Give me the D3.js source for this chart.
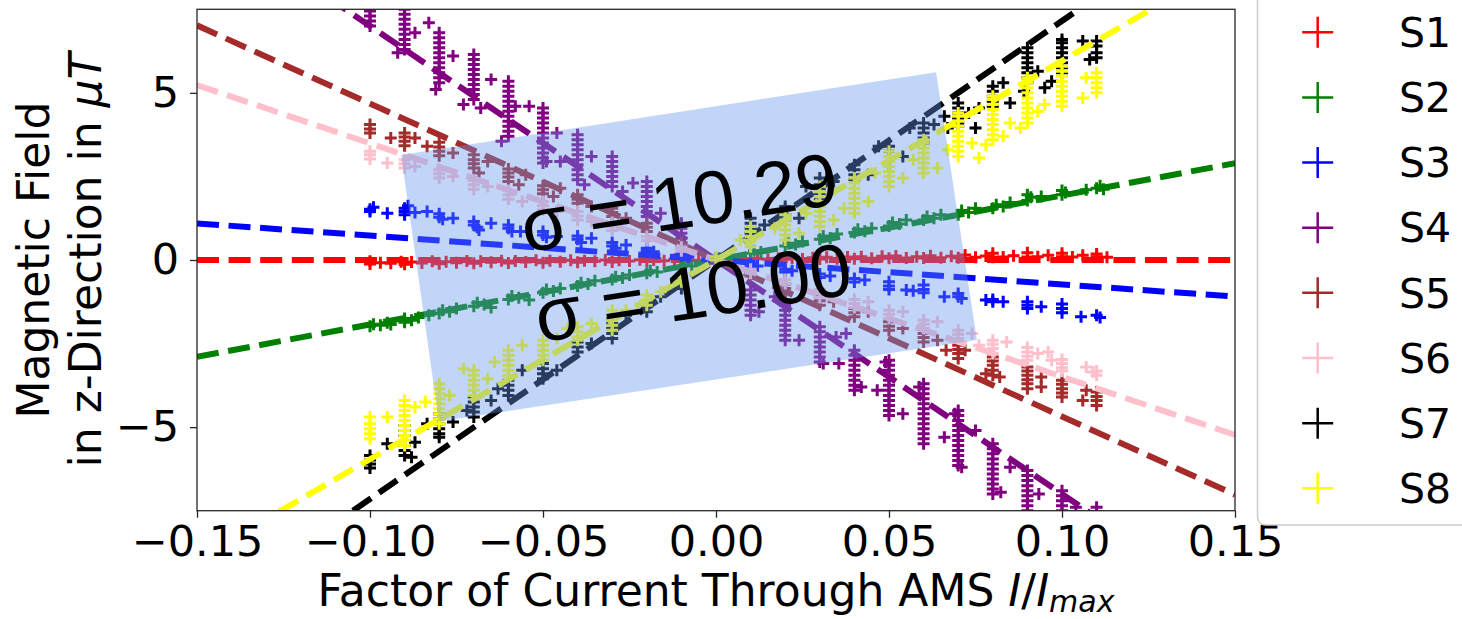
<!DOCTYPE html>
<html>
<head>
<meta charset="utf-8">
<script src="https://cdn.jsdelivr.net/npm/d3@7"></script>
<style>
  html, body { margin: 0; padding: 0; background: #fff; }
  svg { display: block; }
</style>
</head>
<body>
<svg id="chart" width="1462" height="619"></svg>
<script>
// ---- data -------------------------------------------------------------
const categories = ["S1", "S2", "S3", "S4", "S5", "S6", "S7", "S8"];
const seriesColors = ["red", "green", "blue", "purple", "brown", "pink", "black", "yellow"];
// slopes of the fitted lines (µT per unit I/Imax), all through the origin
const fitSlopes = [0, 19.3, -7.3, -70, -46.8, -34.9, 71.5, 59.6];
const xTickValues = [-0.15, -0.10, -0.05, 0.00, 0.05, 0.10, 0.15];
const yTickValues = [-5, 0, 5];
const sigmaLabels = ["σ = 10.29", "σ = 10.00"];

// measurements: each row is [I/Imax, Bz, Bz, ...] (several readings at one current)
const s1Points = [
  [-0.100, -0.12, -0.04], [-0.097, -0.08], [-0.094, -0.10], [-0.091, -0.05],
  [-0.090, -0.13], [-0.088, -0.06], [-0.085, -0.09], [-0.082, -0.04],
  [-0.080, -0.11], [-0.078, -0.05], [-0.075, -0.08], [-0.072, -0.03],
  [-0.070, -0.10], [-0.068, -0.04], [-0.065, -0.07], [-0.062, -0.02],
  [-0.060, -0.09], [-0.058, -0.03], [-0.055, -0.06], [-0.052, -0.01],
  [-0.050, -0.08], [-0.048, -0.02], [-0.045, -0.05], [-0.042, -0.01],
  [-0.040, -0.07], [-0.038, -0.02], [-0.035, -0.04], [-0.032, 0.00],
  [-0.030, -0.06], [-0.028, -0.01], [-0.025, -0.03], [-0.022, 0.01],
  [-0.020, -0.04], [-0.018, 0.00], [-0.015, -0.02], [-0.012, 0.02],
  [-0.010, -0.03], [-0.008, 0.01], [-0.005, -0.01], [-0.002, 0.02],
  [0.000, -0.01], [0.002, 0.02], [0.005, 0.00], [0.008, 0.03],
  [0.010, 0.01], [0.012, 0.04], [0.015, 0.02], [0.018, 0.05],
  [0.020, 0.02], [0.022, 0.06], [0.025, 0.03], [0.028, 0.07],
  [0.030, 0.03], [0.032, 0.08], [0.035, 0.04], [0.038, 0.09],
  [0.040, 0.04], [0.042, 0.10], [0.045, 0.05], [0.048, 0.11],
  [0.050, 0.05], [0.052, 0.12], [0.055, 0.06], [0.058, 0.10],
  [0.060, 0.06], [0.062, 0.13], [0.065, 0.07], [0.068, 0.11],
  [0.070, 0.07], [0.072, 0.15], [0.075, 0.08], [0.078, 0.12],
  [0.080, 0.08, 0.20], [0.083, 0.09], [0.086, 0.13],
  [0.090, 0.09, 0.22], [0.093, 0.10], [0.096, 0.14],
  [0.100, 0.10, 0.20], [0.103, 0.09], [0.106, 0.14],
  [0.110, 0.10, 0.18], [0.113, 0.08]
];
const s2Points = [
  [-0.100, -1.98], [-0.099, -1.92], [-0.097, -1.95], [-0.095, -1.88], [-0.094, -1.93],
  [-0.090, -1.86, -1.75], [-0.088, -1.80], [-0.086, -1.72], [-0.083, -1.65],
  [-0.080, -1.60], [-0.079, -1.50], [-0.077, -1.55], [-0.075, -1.45],
  [-0.070, -1.38], [-0.069, -1.28], [-0.067, -1.33], [-0.065, -1.42],
  [-0.060, -1.18], [-0.059, -1.08], [-0.057, -1.13], [-0.054, -1.20],
  [-0.050, -0.98], [-0.049, -0.88], [-0.047, -0.93], [-0.045, -0.85],
  [-0.040, -0.78], [-0.039, -0.68], [-0.037, -0.72], [-0.035, -0.62],
  [-0.030, -0.58], [-0.029, -0.50], [-0.027, -0.54], [-0.025, -0.45],
  [-0.020, -0.40], [-0.019, -0.32], [-0.017, -0.36],
  [-0.010, -0.20], [-0.009, -0.14], [-0.007, -0.18],
  [0.000, 0.00], [0.001, 0.05],
  [0.010, 0.20], [0.011, 0.28], [0.013, 0.24],
  [0.020, 0.42], [0.021, 0.50], [0.023, 0.46], [0.025, 0.55],
  [0.030, 0.62], [0.031, 0.72], [0.033, 0.66], [0.035, 0.78],
  [0.040, 0.82], [0.041, 0.92], [0.043, 0.86], [0.045, 0.95],
  [0.050, 1.02], [0.051, 1.12], [0.053, 1.08], [0.055, 1.20],
  [0.060, 1.20], [0.061, 1.30], [0.063, 1.25], [0.065, 1.35],
  [0.070, 1.35], [0.071, 1.48], [0.073, 1.42], [0.075, 1.55],
  [0.080, 1.55], [0.081, 1.65], [0.083, 1.60], [0.085, 1.72],
  [0.090, 1.78, 1.95], [0.091, 1.88], [0.094, 1.90],
  [0.100, 1.95, 2.08], [0.101, 2.02],
  [0.107, 2.10], [0.110, 2.15], [0.111, 2.22], [0.112, 2.12]
];
const s3Points = [
  [-0.100, 1.52, 1.45], [-0.099, 1.58], [-0.095, 1.40],
  [-0.090, 1.55, 1.45, 1.35], [-0.089, 1.62], [-0.087, 1.42],
  [-0.0835, 1.45], [-0.080, 1.38, 1.28], [-0.079, 1.22], [-0.076, 1.25],
  [-0.070, 1.15, 1.05], [-0.069, 0.98], [-0.0685, 0.90], [-0.065, 1.10],
  [-0.060, 1.05, 0.95], [-0.059, 0.85], [-0.0565, 0.85],
  [-0.050, 0.85, 0.75], [-0.049, 0.68], [-0.046, 0.70],
  [-0.040, 0.72, 0.62], [-0.039, 0.52], [-0.036, 0.65],
  [-0.030, 0.52, 0.42], [-0.029, 0.35], [-0.026, 0.45],
  [-0.020, 0.35, 0.28], [-0.018, 0.25],
  [-0.010, 0.18, 0.12], [-0.008, 0.10],
  [0.000, 0.02],
  [0.010, -0.12, -0.20], [0.012, -0.18],
  [0.020, -0.28, -0.36], [0.022, -0.32],
  [0.030, -0.42, -0.52], [0.033, -0.48],
  [0.040, -0.55, -0.66], [0.043, -0.60],
  [0.050, -0.65, -0.78, -0.88], [0.055, -0.90],
  [0.057, -0.92], [0.060, -0.75, -0.88, -0.98],
  [0.066, -1.10], [0.070, -1.00, -1.10], [0.071, -1.15],
  [0.078, -1.20], [0.080, -1.18, -1.25], [0.083, -1.25],
  [0.090, -1.25, -1.35, -1.45], [0.094, -1.40],
  [0.100, -1.32, -1.45, -1.58],
  [0.1055, -1.70], [0.110, -1.65], [0.111, -1.72]
];
const s4Points = [
  [-0.100, 7.00, 7.15, 7.30, 7.45, 7.60],
  [-0.092, 6.20], [-0.087, 6.80],
  [-0.090, 6.30, 6.45, 6.60, 6.75, 6.90, 7.05, 7.20, 7.35, 7.50, 7.65],
  [-0.083, 7.10], [-0.081, 5.10], [-0.076, 6.10],
  [-0.080, 5.30, 5.45, 5.60, 5.75, 5.90, 6.05, 6.20, 6.35, 6.50, 6.65, 6.80],
  [-0.073, 4.65], [-0.068, 4.55], [-0.065, 5.40],
  [-0.070, 4.80, 4.95, 5.10, 5.25, 5.40, 5.55, 5.70, 5.85, 6.00, 6.15],
  [-0.062, 3.55], [-0.058, 4.60], [-0.054, 4.60],
  [-0.060, 3.70, 3.85, 4.00, 4.15, 4.30, 4.45, 4.60, 4.75, 4.90, 5.05, 5.20, 5.35],
  [-0.049, 2.95], [-0.046, 3.80], [-0.045, 2.95],
  [-0.050, 2.90, 3.05, 3.20, 3.35, 3.50, 3.65, 3.80, 3.95, 4.10, 4.25, 4.40, 4.55],
  [-0.038, 2.25], [-0.036, 3.10],
  [-0.040, 2.40, 2.55, 2.70, 2.85, 3.00, 3.15, 3.30, 3.45, 3.60, 3.75],
  [-0.027, 2.05], [-0.024, 2.30],
  [-0.030, 2.20, 2.35, 2.50, 2.65, 2.80, 2.95, 3.10],
  [-0.016, 1.40],
  [-0.020, 1.30, 1.45, 1.60, 1.75, 1.90, 2.05, 2.20, 2.35],
  [-0.010, 0.50, 0.65, 0.80, 0.95, 1.10],
  [0.000, -0.10, 0.05],
  [0.0124, -1.55],
  [0.010, -0.90, -1.05, -1.20, -1.35, -1.50, -1.65],
  [0.017, -1.10], [0.024, -2.40],
  [0.020, -1.20, -1.35, -1.50, -1.65, -1.80, -1.95, -2.10, -2.25, -2.40],
  [0.031, -3.10], [0.0347, -2.30], [0.0355, -3.10], [0.0376, -2.20],
  [0.030, -2.00, -2.15, -2.30, -2.45, -2.60, -2.75, -2.90, -3.05],
  [0.042, -3.80], [0.0466, -3.90], [0.049, -3.05],
  [0.040, -2.70, -2.85, -3.00, -3.15, -3.30, -3.45, -3.60, -3.75, -3.90],
  [0.054, -4.60], [0.0587, -3.80],
  [0.050, -3.00, -3.15, -3.30, -3.45, -3.60, -3.75, -3.90, -4.05, -4.20, -4.35, -4.50, -4.65],
  [0.066, -5.30], [0.069, -4.60],
  [0.060, -3.70, -3.85, -4.00, -4.15, -4.30, -4.45, -4.60, -4.75, -4.90, -5.05, -5.20, -5.35, -5.50],
  [0.071, -6.20], [0.075, -5.10],
  [0.070, -4.50, -4.65, -4.80, -4.95, -5.10, -5.25, -5.40, -5.55, -5.70, -5.85, -6.00, -6.15],
  [0.0823, -6.95], [0.085, -6.20],
  [0.080, -5.50, -5.65, -5.80, -5.95, -6.10, -6.25, -6.40, -6.55, -6.70, -6.85, -7.00],
  [0.0933, -7.00],
  [0.090, -6.30, -6.45, -6.60, -6.75, -6.90, -7.05, -7.20, -7.35, -7.50],
  [0.104, -7.40],
  [0.100, -6.90, -7.05, -7.20, -7.35, -7.50, -7.65],
  [0.110, -7.40, -7.55]
];
const s5Points = [
  [-0.100, 3.80, 3.92, 4.05], [-0.094, 3.65],
  [-0.090, 3.42, 3.55, 3.68, 3.80], [-0.087, 3.65], [-0.0835, 3.40],
  [-0.080, 3.12, 3.25, 3.38, 3.52], [-0.076, 3.20],
  [-0.070, 2.75, 2.88, 3.00, 3.15], [-0.0685, 2.60], [-0.066, 2.95],
  [-0.060, 2.35, 2.48, 2.60, 2.72], [-0.057, 2.25], [-0.055, 2.55],
  [-0.050, 1.98, 2.10, 2.22], [-0.047, 1.90], [-0.045, 2.15],
  [-0.040, 1.70, 1.82, 1.95], [-0.036, 1.60],
  [-0.030, 1.30, 1.42, 1.55], [-0.026, 1.25],
  [-0.020, 0.85, 0.98, 1.10],
  [-0.010, 0.40, 0.52],
  [0.000, 0.00],
  [0.010, -0.35, -0.48],
  [0.020, -0.72, -0.85, -0.98],
  [0.030, -1.10, -1.22, -1.35], [0.034, -1.25],
  [0.040, -1.45, -1.58, -1.70], [0.044, -1.55],
  [0.050, -1.85, -1.98, -2.10], [0.054, -2.05],
  [0.060, -2.20, -2.32, -2.45], [0.064, -2.40],
  [0.0665, -2.70], [0.070, -2.55, -2.68, -2.80, -2.95], [0.072, -2.70],
  [0.078, -3.40], [0.080, -2.90, -3.02, -3.15, -3.30, -3.45], [0.082, -3.50],
  [0.090, -3.20, -3.32, -3.45, -3.58, -3.70, -3.85], [0.094, -3.50, -3.80],
  [0.100, -3.60, -3.72, -3.85, -3.98, -4.10],
  [0.106, -4.20], [0.107, -3.90], [0.110, -3.95, -4.08, -4.20, -4.35]
];
const s6Points = [
  [-0.100, 3.02, 3.15, 3.25], [-0.095, 2.90],
  [-0.090, 2.75, 2.88, 3.00], [-0.087, 2.80],
  [-0.080, 2.45, 2.58, 2.70], [-0.076, 2.50],
  [-0.070, 2.12, 2.25, 2.38], [-0.066, 2.20],
  [-0.060, 1.82, 1.95, 2.08], [-0.056, 1.75],
  [-0.050, 1.50, 1.62, 1.75], [-0.046, 1.45],
  [-0.040, 1.20, 1.32, 1.45], [-0.036, 1.15],
  [-0.030, 0.88, 1.00, 1.12],
  [-0.020, 0.58, 0.70],
  [-0.010, 0.28, 0.38],
  [0.000, 0.00],
  [0.010, -0.28, -0.40],
  [0.020, -0.58, -0.70],
  [0.030, -0.88, -1.00, -1.12],
  [0.040, -1.18, -1.30, -1.42], [0.044, -1.25],
  [0.050, -1.50, -1.62, -1.75], [0.054, -1.55],
  [0.060, -1.80, -1.92, -2.05], [0.064, -1.85],
  [0.070, -2.10, -2.22, -2.35], [0.074, -2.20],
  [0.076, -2.55], [0.080, -2.40, -2.52, -2.65, -2.80], [0.084, -2.45],
  [0.090, -2.62, -2.75, -2.88, -3.00], [0.093, -2.80], [0.096, -2.75],
  [0.097, -3.00], [0.100, -2.98, -3.10, -3.22, -3.32],
  [0.107, -3.20], [0.109, -3.35], [0.110, -3.32, -3.45]
];
const s7Points = [
  [-0.100, -5.85, -5.98, -6.10, -6.22], [-0.095, -5.50],
  [-0.090, -4.95, -5.10, -5.25, -5.40, -5.55, -5.70, -5.85], [-0.088, -5.90], [-0.087, -5.45],
  [-0.0835, -4.90], [-0.080, -4.60, -4.75, -4.90, -5.05, -5.20, -5.30], [-0.076, -4.85],
  [-0.072, -4.50], [-0.070, -4.10, -4.25, -4.40, -4.55, -4.70], [-0.065, -4.20],
  [-0.063, -3.85], [-0.060, -3.60, -3.75, -3.90, -4.05], [-0.056, -3.30],
  [-0.050, -3.10, -3.25, -3.40, -3.55], [-0.046, -3.30],
  [-0.040, -2.45, -2.60, -2.75], [-0.036, -2.50],
  [-0.030, -1.75, -1.90, -2.05, -2.20, -2.35], [-0.026, -1.65],
  [-0.020, -1.25, -1.40, -1.55], [-0.016, -1.10],
  [-0.010, -0.55, -0.70, -0.85],
  [0.000, 0.00],
  [0.010, 0.65, 0.80, 0.95, 1.10, 1.25], [0.014, 1.05],
  [0.020, 1.20, 1.35, 1.50, 1.60], [0.024, 1.25],
  [0.026, 2.20], [0.030, 1.80, 1.95, 2.10, 2.25, 2.45], [0.034, 2.35],
  [0.040, 2.40, 2.55, 2.70, 2.85], [0.044, 2.55],
  [0.047, 3.40], [0.050, 2.80, 2.95, 3.10, 3.25, 3.40], [0.054, 3.10],
  [0.056, 3.95], [0.060, 3.50, 3.65, 3.80, 3.95, 4.10], [0.063, 4.05],
  [0.066, 4.30], [0.067, 3.95], [0.070, 4.00, 4.10, 4.25, 4.40, 4.55, 4.70], [0.073, 4.40], [0.075, 3.95],
  [0.076, 4.55], [0.080, 4.60, 4.75, 4.90, 5.05, 5.20], [0.083, 5.30], [0.085, 4.70],
  [0.089, 5.05], [0.090, 5.30, 5.45, 5.60, 5.75, 5.90, 6.05, 6.20, 6.35], [0.093, 5.65], [0.095, 5.15],
  [0.097, 5.35], [0.100, 5.60, 5.75, 5.90, 6.05, 6.20, 6.35, 6.50, 6.60],
  [0.106, 6.55], [0.108, 6.00], [0.110, 6.05, 6.20, 6.40, 6.55]
];
const s8Points = [
  [-0.100, -4.70, -4.90, -5.05, -5.20, -5.35], [-0.095, -4.70],
  [-0.090, -4.20, -4.35, -4.50, -4.65, -4.80, -4.95, -5.10, -5.25, -5.40, -5.55], [-0.087, -4.40],
  [-0.084, -4.25], [-0.080, -3.70, -3.85, -4.00, -4.15, -4.30, -4.45, -4.60, -4.75, -4.90], [-0.077, -4.05],
  [-0.073, -3.25], [-0.070, -3.30, -3.45, -3.60, -3.75, -3.90, -4.05], [-0.066, -3.55],
  [-0.064, -3.05], [-0.060, -2.70, -2.85, -3.00, -3.15, -3.30, -3.45], [-0.056, -2.55],
  [-0.050, -2.40, -2.55, -2.70, -2.85, -3.00], [-0.046, -2.35],
  [-0.043, -2.05], [-0.040, -2.00, -2.15, -2.30, -2.40], [-0.036, -1.90],
  [-0.030, -1.50, -1.65, -1.80, -1.95, -2.10], [-0.026, -1.50],
  [-0.020, -1.05, -1.20, -1.35], [-0.016, -0.95],
  [-0.010, -0.50, -0.65],
  [0.000, 0.00, 0.10],
  [0.007, 0.60], [0.010, 0.40, 0.55, 0.70, 0.85, 1.00],
  [0.017, 0.95], [0.020, 0.60, 0.75, 0.90, 1.05, 1.20, 1.35], [0.024, 0.80],
  [0.026, 1.40], [0.030, 1.00, 1.15, 1.30, 1.45, 1.60, 1.75, 1.90, 2.05, 2.20], [0.034, 1.20],
  [0.037, 1.55], [0.040, 1.40, 1.55, 1.70, 1.85, 2.00, 2.15, 2.30, 2.45], [0.044, 1.75],
  [0.046, 2.60], [0.050, 2.20, 2.35, 2.50, 2.65, 2.80, 2.95, 3.10, 3.25], [0.054, 2.45],
  [0.057, 3.00], [0.060, 2.60, 2.75, 2.90, 3.05, 3.20, 3.35, 3.50, 3.60], [0.064, 2.75],
  [0.067, 3.30], [0.070, 3.10, 3.25, 3.40, 3.55, 3.70, 3.85, 4.00, 4.15, 4.30, 4.40], [0.074, 3.50], [0.076, 3.05],
  [0.078, 3.45], [0.080, 3.60, 3.75, 3.90, 4.05, 4.20, 4.35, 4.50, 4.65, 4.80, 4.90], [0.083, 3.70], [0.085, 4.10],
  [0.088, 3.95], [0.090, 4.10, 4.25, 4.40, 4.55, 4.70, 4.85, 5.00, 5.15, 5.30, 5.45], [0.093, 4.45], [0.095, 4.65],
  [0.100, 4.60, 4.75, 4.90, 5.05, 5.20, 5.35, 5.50, 5.65, 5.80],
  [0.106, 4.85], [0.107, 5.45], [0.110, 5.00, 5.15, 5.30, 5.45, 5.60]
];
const seriesPoints = [s1Points, s2Points, s3Points, s4Points, s5Points, s6Points, s7Points, s8Points];

// ---- layout -----------------------------------------------------------
const W = 1462, H = 619;
const plot = { left: 197, right: 1235, top: 9.3, bottom: 510.7 };
const tickFont = "'DejaVu Sans', 'Noto Sans', sans-serif";
const noteFont = "'Liberation Sans', Arial, sans-serif";

// highlighted region (corners in data units) and the two σ notes on top of it
const bandCorners = [[-0.0910, 3.14], [0.0636, 5.62], [0.0754, -2.39], [-0.0801, -4.83]];
const noteAnchors = [[-0.0095, 0.957], [-0.0055, -1.735]];
const noteAngle = -8.8;

const svg = d3.select("#chart");
svg.append("rect").attr("width", W).attr("height", H).attr("fill", "#fff");

const x = d3.scaleLinear().domain([-0.15, 0.15]).range([plot.left, plot.right]);
const y = d3.scaleLinear().domain([-7.5, 7.5]).range([plot.bottom, plot.top]);

svg.append("defs").append("clipPath").attr("id", "plotClip")
  .append("rect")
  .attr("x", plot.left).attr("y", plot.top)
  .attr("width", plot.right - plot.left).attr("height", plot.bottom - plot.top);

const plotArea = svg.append("g").attr("clip-path", "url(#plotClip)");

const plusPath = s => `M${-s},0H${s}M0,${-s}V${s}`;
const line = d3.line().x(d => x(d[0])).y(d => y(d[1]));

seriesPoints.forEach((rows, i) => {
  const pts = rows.flatMap(r => r.slice(1).map(v => [r[0], v]));
  const g = plotArea.append("g");
  g.selectAll("path.pt").data(pts).join("path")
    .attr("class", "pt")
    .attr("d", plusPath(6))
    .attr("transform", d => `translate(${x(d[0])},${y(d[1])})`)
    .attr("fill", "none")
    .attr("stroke", seriesColors[i])
    .attr("stroke-width", 3);
  const xs = x.domain();
  g.append("path")
    .datum(xs.map(v => [v, fitSlopes[i] * v]))
    .attr("d", line)
    .attr("fill", "none")
    .attr("stroke", seriesColors[i])
    .attr("stroke-width", 6)
    .attr("stroke-dasharray", "22,9.6");
});

// frame
svg.append("rect")
  .attr("x", plot.left).attr("y", plot.top)
  .attr("width", plot.right - plot.left).attr("height", plot.bottom - plot.top)
  .attr("fill", "none").attr("stroke", "#262626").attr("stroke-width", 1.3);

// axes
const xAxis = svg.append("g")
  .attr("transform", `translate(0,${plot.bottom})`)
  .call(d3.axisBottom(x).tickValues(xTickValues).tickFormat(d3.format(".2f"))
    .tickSizeOuter(0).tickSize(7).tickPadding(8));
const yAxis = svg.append("g")
  .attr("transform", `translate(${plot.left},0)`)
  .call(d3.axisLeft(y).tickValues(yTickValues).tickFormat(d3.format("d"))
    .tickSizeOuter(0).tickSize(7).tickPadding(11));
[xAxis, yAxis].forEach(a => {
  a.select(".domain").remove();
  a.selectAll(".tick line").attr("stroke", "#262626").attr("stroke-width", 1.3);
  a.selectAll(".tick text").attr("fill", "#000")
    .style("font-family", tickFont).style("font-size", "43px");
});

// axis titles
const xTitle = svg.append("text")
  .attr("x", 716).attr("y", 606)
  .attr("text-anchor", "middle")
  .style("font-family", tickFont).style("font-size", "44px").attr("fill", "#000");
xTitle.append("tspan").text("Factor of Current Through AMS ");
xTitle.append("tspan").attr("font-style", "italic").text("I");
xTitle.append("tspan").text("/");
xTitle.append("tspan").attr("font-style", "italic").text("I");
xTitle.append("tspan").attr("font-style", "italic").attr("font-size", "30px")
  .attr("dy", 6).text("max");

const yMid = (plot.top + plot.bottom) / 2;
svg.append("text")
  .attr("transform", `translate(49,${yMid}) rotate(-90)`)
  .attr("text-anchor", "middle")
  .style("font-family", tickFont).style("font-size", "44px").attr("fill", "#000")
  .text("Magnetic Field");
const yTitle2 = svg.append("text")
  .attr("transform", `translate(101,${yMid}) rotate(-90)`)
  .attr("text-anchor", "middle")
  .style("font-family", tickFont).style("font-size", "44px").attr("fill", "#000");
yTitle2.append("tspan").text("in z-Direction in ");
yTitle2.append("tspan").attr("font-style", "italic").text("μT");

// highlighted band with σ notes
svg.append("path")
  .datum(bandCorners)
  .attr("d", d => line(d) + "Z")
  .attr("fill", "cornflowerblue")
  .attr("fill-opacity", 0.4);

svg.selectAll("text.note").data(sigmaLabels).join("text")
  .attr("class", "note")
  .attr("transform", (d, i) =>
    `translate(${x(noteAnchors[i][0])},${y(noteAnchors[i][1])}) rotate(${noteAngle})`)
  .attr("text-anchor", "middle")
  .style("font-family", noteFont).style("font-size", "75px").attr("fill", "#000")
  .text(d => d);

// legend
const legend = svg.append("g");
legend.append("rect")
  .attr("x", 1257.5).attr("y", -20).attr("width", 240).attr("height", 545)
  .attr("rx", 8)
  .attr("fill", "#fff").attr("fill-opacity", 0.8)
  .attr("stroke", "#cccccc").attr("stroke-width", 1.5);
const rowY = d3.scalePoint().domain(categories).range([32.3, 488.3]);
const entries = legend.selectAll("g.entry").data(categories).join("g")
  .attr("class", "entry")
  .attr("transform", d => `translate(0,${rowY(d)})`);
entries.append("path")
  .attr("d", plusPath(15.5))
  .attr("transform", "translate(1317.7,0)")
  .attr("fill", "none")
  .attr("stroke", (d, i) => seriesColors[i])
  .attr("stroke-width", 2.5);
entries.append("text")
  .attr("x", 1399).attr("dy", "0.36em")
  .style("font-family", tickFont).style("font-size", "41px").attr("fill", "#000")
  .text(d => d);
</script>
</body>
</html>
